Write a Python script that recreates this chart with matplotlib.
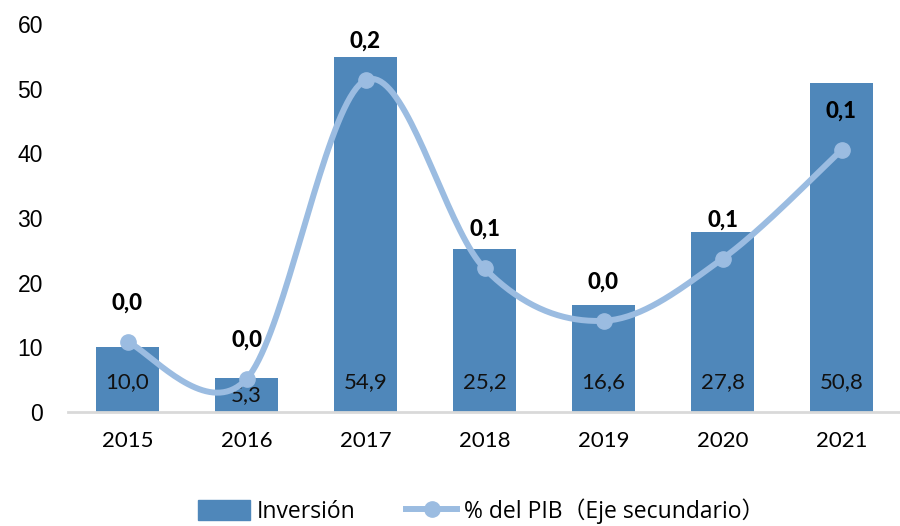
import numpy as np
import matplotlib
matplotlib.use("Agg")
import matplotlib.pyplot as plt
from matplotlib.patches import Patch
from matplotlib.lines import Line2D

years = ["2015", "2016", "2017", "2018", "2019", "2020", "2021"]
inversion = [10.0, 5.3, 54.9, 25.2, 16.6, 27.8, 50.8]
pct_pib = [0.036, 0.017, 0.171, 0.074, 0.047, 0.079, 0.135]

BAR = "#4F87BA"
LINE = "#9BBCE1"
FONT = ["Lato", "DejaVu Sans"]

def fmt(v, d=1):
    return f"{v:.{d}f}".replace(".", ",")

def catmull_rom(xs, ys, n=40):
    xs = np.asarray(xs, float); ys = np.asarray(ys, float)
    P = np.column_stack([xs, ys])
    P = np.vstack([P[0], P, P[-1]])
    out = []
    for i in range(1, len(P) - 2):
        p0, p1, p2, p3 = P[i - 1], P[i], P[i + 1], P[i + 2]
        c1 = p1 + (p2 - p0) / 6.0
        c2 = p2 - (p3 - p1) / 6.0
        t = np.linspace(0, 1, n)[:, None]
        seg = (1 - t) ** 3 * p1 + 3 * (1 - t) ** 2 * t * c1 + 3 * (1 - t) * t ** 2 * c2 + t ** 3 * p2
        out.append(seg if i == 1 else seg[1:])
    s = np.vstack(out)
    return s[:, 0], s[:, 1]

fig = plt.figure(figsize=(9, 5.26), dpi=100)
ax = fig.add_axes([68 / 900, 114 / 526, 833 / 900, 388 / 526])
x = np.arange(len(years))
ax.bar(x, inversion, width=0.535, color=BAR, zorder=2)
ax.set_xlim(-0.5, 6.5)
ax.set_ylim(0, 60)
ax.set_yticks(range(0, 61, 10))
for s in ["top", "right", "left"]:
    ax.spines[s].set_visible(False)
ax.spines["bottom"].set_color("#D9D9D9")
ax.spines["bottom"].set_linewidth(2)
ax.tick_params(axis="both", length=0)
ax.tick_params(axis="x", pad=14)
ax.tick_params(axis="y", pad=18)
ax.set_xticks(x)
ax.set_xticklabels(years, fontsize=16, family=FONT)
for lab in ax.get_yticklabels():
    lab.set_family(["Liberation Sans", "DejaVu Sans"])
    lab.set_fontsize(16.5)

for xi, v in zip(x, inversion):
    ax.text(xi, min(v / 2, 4.6), fmt(v), ha="center", va="center",
            fontsize=16, family=FONT, color="#111111", zorder=5)

ax2 = ax.twinx()
ax2.set_ylim(0, 0.2)
ax2.axis("off")
sx, sy = catmull_rom(x, pct_pib)
ax2.plot(sx, sy, color=LINE, lw=4.3, solid_capstyle="round", zorder=3)
ax2.plot(x, pct_pib, "o", color=LINE, ms=11, zorder=4)
for xi, v in zip(x, pct_pib):
    ax2.annotate(fmt(v), (xi, v), xytext=(0, 39), textcoords="offset pixels",
                 ha="center", va="center", fontsize=16, fontweight="black",
                 family=FONT, color="black", zorder=6)

handles = [Patch(facecolor=BAR, edgecolor=BAR),
           Line2D([0], [0], color=LINE, lw=4.3, marker="o", ms=11)]
leg = fig.legend(handles, ["Inversión", "% del PIB（Eje secundario）"],
                 loc="lower center", bbox_to_anchor=(0.535, -0.035), ncol=2,
                 frameon=False, handlelength=2.25, handleheight=1.0,
                 columnspacing=2.2, handletextpad=0.3,
                 prop={"family": ["Open Sans", "Noto Sans CJK SC", "DejaVu Sans"], "size": 16.5})

fig.savefig("out.png", dpi=100)
